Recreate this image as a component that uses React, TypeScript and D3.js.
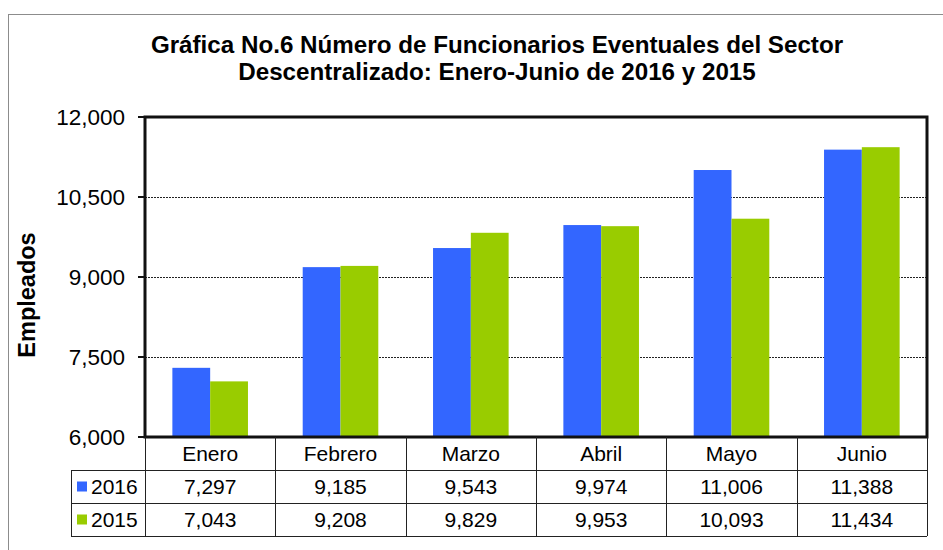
import React, { useRef, useEffect } from "react";
import * as d3 from "d3";

const months = ["Enero", "Febrero", "Marzo", "Abril", "Mayo", "Junio"];
const values2016 = [7297, 9185, 9543, 9974, 11006, 11388];
const values2015 = [7043, 9208, 9829, 9953, 10093, 11434];
const yTicks = [6000, 7500, 9000, 10500, 12000];
const seriesNames = ["2016", "2015"];
const seriesColors = ["#3366FF", "#99CC00"];

const App = () => {
  const svgRef = useRef<SVGSVGElement>(null);

  useEffect(() => {
    const svg = d3.select(svgRef.current);
    svg.selectAll("*").remove();

    const width = 943;
    const height = 550;
    const plot = { left: 145, right: 927, top: 117, bottom: 437 };
    const rowH = 33;
    const font = "'Liberation Sans', Arial, sans-serif";

    // outer frame
    svg
      .append("rect")
      .attr("x", 8.5)
      .attr("y", 14.5)
      .attr("width", width + 20)
      .attr("height", height + 20)
      .attr("fill", "white")
      .attr("stroke", "#8c8c8c")
      .attr("stroke-width", 1);

    // title
    const title = svg
      .append("text")
      .attr("text-anchor", "middle")
      .style("font-family", font)
      .style("font-weight", "bold")
      .style("font-size", "24.2px");
    title.append("tspan").attr("x", 497).attr("y", 53).text("Gráfica No.6 Número de Funcionarios Eventuales del Sector");
    title.append("tspan").attr("x", 497).attr("y", 80).text("Descentralizado: Enero-Junio de 2016 y 2015");

    const x = d3
      .scaleBand()
      .domain(months)
      .range([plot.left, plot.right])
      .paddingInner(0.42)
      .paddingOuter(0.21);

    const x1 = d3
      .scaleBand()
      .domain(seriesNames)
      .range([0, x.bandwidth()]);

    const y = d3
      .scaleLinear()
      .domain([6000, 12000])
      .range([plot.bottom, plot.top]);

    const color = d3.scaleOrdinal<string>().domain(seriesNames).range(seriesColors);

    // gridlines
    svg
      .append("g")
      .selectAll("line")
      .data(yTicks.filter((t) => t !== 6000 && t !== 12000))
      .join("line")
      .attr("x1", plot.left)
      .attr("x2", plot.right)
      .attr("y1", (d) => Math.round(y(d)) + 0.5)
      .attr("y2", (d) => Math.round(y(d)) + 0.5)
      .attr("stroke", "#222")
      .attr("stroke-width", 1)
      .attr("stroke-dasharray", "2,1");

    // bars
    const rows = months.map((m, i) => ({
      month: m,
      values: [
        { name: "2016", value: values2016[i] },
        { name: "2015", value: values2015[i] },
      ],
    }));

    svg
      .append("g")
      .selectAll("g")
      .data(rows)
      .join("g")
      .attr("transform", (d) => `translate(${x(d.month)},0)`)
      .selectAll("rect")
      .data((d) => d.values)
      .join("rect")
      .attr("x", (d) => x1(d.name)!)
      .attr("y", (d) => y(d.value))
      .attr("width", x1.bandwidth())
      .attr("height", (d) => plot.bottom - y(d.value))
      .attr("fill", (d) => color(d.name));

    // plot frame
    svg
      .append("rect")
      .attr("x", plot.left)
      .attr("y", plot.top)
      .attr("width", plot.right - plot.left)
      .attr("height", plot.bottom - plot.top)
      .attr("fill", "none")
      .attr("stroke", "#111")
      .attr("stroke-width", 3);

    // y axis ticks + labels
    const yAxis = svg.append("g");
    yAxis
      .selectAll("line")
      .data(yTicks)
      .join("line")
      .attr("x1", plot.left - 7)
      .attr("x2", plot.left)
      .attr("y1", (d) => y(d))
      .attr("y2", (d) => y(d))
      .attr("stroke", "#111")
      .attr("stroke-width", 2);
    yAxis
      .selectAll("text")
      .data(yTicks)
      .join("text")
      .attr("x", plot.left - 20)
      .attr("y", (d) => y(d))
      .attr("dy", "0.36em")
      .attr("text-anchor", "end")
      .style("font-family", font)
      .style("font-size", "22.5px")
      .text((d) => d3.format(",")(d));

    svg
      .append("text")
      .attr("transform", `translate(35,295) rotate(-90)`)
      .attr("text-anchor", "middle")
      .style("font-family", font)
      .style("font-weight", "bold")
      .style("font-size", "23.5px")
      .text("Empleados");

    // data table
    const table = svg.append("g");
    const step = x.step();
    const colEdges = months.map((_, i) => plot.left + i * step);
    const legendLeft = 71;
    const tableBottom = plot.bottom + rowH * 3;

    // horizontal lines
    [plot.bottom + rowH, plot.bottom + rowH * 2, tableBottom].forEach((ly) => {
      table
        .append("line")
        .attr("x1", legendLeft)
        .attr("x2", plot.right)
        .attr("y1", ly + 0.5)
        .attr("y2", ly + 0.5)
        .attr("stroke", "#222");
    });
    // vertical lines
    colEdges.concat([plot.right]).forEach((lx) => {
      table
        .append("line")
        .attr("x1", Math.round(lx) + 0.5)
        .attr("x2", Math.round(lx) + 0.5)
        .attr("y1", plot.bottom)
        .attr("y2", tableBottom)
        .attr("stroke", "#222");
    });
    table
      .append("line")
      .attr("x1", legendLeft + 0.5)
      .attr("x2", legendLeft + 0.5)
      .attr("y1", plot.bottom + rowH)
      .attr("y2", tableBottom)
      .attr("stroke", "#222");

    const cellText = (tx: number, ty: number, t: string) =>
      table
        .append("text")
        .attr("x", tx)
        .attr("y", ty)
        .attr("dy", "0.36em")
        .attr("text-anchor", "middle")
        .style("font-family", font)
        .style("font-size", "21px")
        .text(t);

    months.forEach((m, i) => {
      const cx = colEdges[i] + step / 2;
      cellText(cx, plot.bottom + rowH / 2, m);
      cellText(cx, plot.bottom + rowH * 1.5, d3.format(",")(values2016[i]));
      cellText(cx, plot.bottom + rowH * 2.5, d3.format(",")(values2015[i]));
    });

    seriesNames.forEach((s, i) => {
      const cy = plot.bottom + rowH * (1.5 + i);
      table
        .append("rect")
        .attr("x", 77)
        .attr("y", cy - 5)
        .attr("width", 10)
        .attr("height", 10)
        .attr("fill", color(s));
      table
        .append("text")
        .attr("x", 91)
        .attr("y", cy)
        .attr("dy", "0.36em")
        .style("font-family", font)
        .style("font-size", "21px")
        .text(s);
    });
  }, []);

  return (
    <svg
      ref={svgRef}
      width={943}
      height={550}
      style={{ position: "absolute", left: 0, top: 0, background: "white" }}
    ></svg>
  );
};

export default App;
